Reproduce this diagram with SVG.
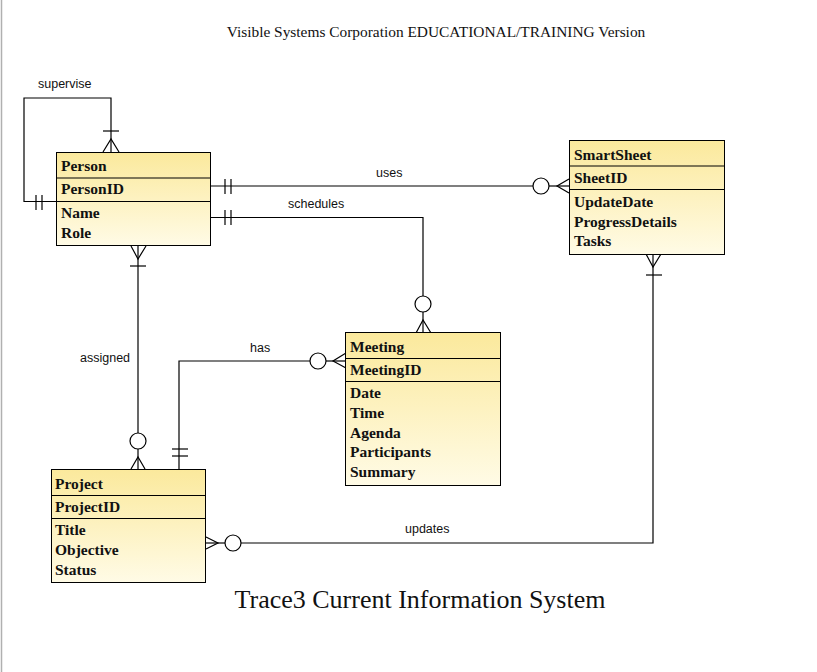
<svg xmlns="http://www.w3.org/2000/svg" width="817" height="672" viewBox="0 0 817 672">
<defs>
<linearGradient id="g" x1="0" y1="0" x2="0" y2="1">
<stop offset="0" stop-color="#fbe99c"/>
<stop offset="1" stop-color="#fffbe6"/>
</linearGradient>
</defs>
<style>
.box{fill:url(#g);stroke:#000;stroke-width:1}
.div{stroke:#000;stroke-width:1}
.t{font-family:"Liberation Serif","Times New Roman",serif;font-weight:bold;font-size:15.5px;fill:#111}
.lbl{font-family:"Liberation Sans",Arial,sans-serif;font-size:12.5px;fill:#111}
.ser{font-family:"Liberation Serif","Times New Roman",serif;fill:#111}
.c{fill:none;stroke:#000;stroke-width:1.2}
.o{fill:#fff;stroke:#000;stroke-width:1.2}
</style>
<rect width="817" height="672" fill="#fff"/>
<line x1="1.5" y1="0" x2="1.5" y2="672" stroke="#b0b0b0" stroke-width="1.5"/>
<text class="ser" x="436" y="37" text-anchor="middle" font-size="15.4">Visible Systems Corporation EDUCATIONAL/TRAINING Version</text>
<text class="ser" x="420" y="608" text-anchor="middle" font-size="26">Trace3 Current Information System</text>

<g id="connectors">
<!-- supervise -->
<polyline class="c" points="56,201.5 24,201.5 24,98 111,98 111,152"/>
<line class="c" x1="103" y1="131" x2="119" y2="131"/>
<polyline class="c" points="103,152 111,139 119,152"/>
<line class="c" x1="36" y1="195" x2="36" y2="210"/>
<line class="c" x1="42" y1="195" x2="42" y2="210"/>
<text class="lbl" x="38" y="88">supervise</text>
<!-- uses -->
<line class="c" x1="211" y1="186" x2="533" y2="186"/>
<line class="c" x1="225" y1="179" x2="225" y2="194"/>
<line class="c" x1="231" y1="179" x2="231" y2="194"/>
<circle class="o" cx="541" cy="186" r="8"/>
<line class="c" x1="549" y1="186" x2="569" y2="186"/>
<polyline class="c" points="569,179 557,186 569,193"/>
<text class="lbl" x="376" y="177">uses</text>
<!-- schedules -->
<polyline class="c" points="211,217.5 423,217.5 423,296"/>
<line class="c" x1="225" y1="210" x2="225" y2="225"/>
<line class="c" x1="231" y1="210" x2="231" y2="225"/>
<circle class="o" cx="423" cy="304" r="8"/>
<line class="c" x1="423" y1="312" x2="423" y2="333"/>
<polyline class="c" points="416,333 423,320 431,333"/>
<text class="lbl" x="288" y="208">schedules</text>
<!-- assigned -->
<line class="c" x1="138" y1="246" x2="138" y2="433"/>
<polyline class="c" points="131,246 138,259 146,246"/>
<line class="c" x1="130" y1="266" x2="146" y2="266"/>
<circle class="o" cx="138" cy="441" r="8"/>
<line class="c" x1="138" y1="449" x2="138" y2="469"/>
<polyline class="c" points="131,469 138,457 145,469"/>
<text class="lbl" x="80" y="362">assigned</text>
<!-- has -->
<polyline class="c" points="179,469 179,361 310,361"/>
<line class="c" x1="172" y1="449" x2="188" y2="449"/>
<line class="c" x1="172" y1="456" x2="188" y2="456"/>
<circle class="o" cx="318" cy="361" r="8"/>
<line class="c" x1="326" y1="361" x2="346" y2="361"/>
<polyline class="c" points="346,353 333,361 346,368"/>
<text class="lbl" x="250" y="352">has</text>
<!-- updates -->
<polyline class="c" points="653,254 653,543 241,543"/>
<polyline class="c" points="646,254 653,267 661,254"/>
<line class="c" x1="646" y1="275" x2="662" y2="275"/>
<circle class="o" cx="233" cy="543" r="8"/>
<line class="c" x1="225" y1="543" x2="206" y2="543"/>
<polyline class="c" points="206,537 218,543 206,549"/>
<text class="lbl" x="405" y="533">updates</text>
</g>

<g id="person">
<rect class="box" x="56.5" y="152.5" width="154" height="93"/>
<line class="div" x1="56.5" y1="178" x2="210.5" y2="178"/>
<line class="div" x1="56.5" y1="201.5" x2="210.5" y2="201.5"/>
<text class="t" x="61" y="171">Person</text>
<text class="t" x="61" y="194">PersonID</text>
<text class="t" x="61" y="218">Name</text>
<text class="t" x="61" y="238">Role</text>
</g>

<g id="smartsheet">
<rect class="box" x="569.5" y="140.5" width="155" height="114"/>
<line class="div" x1="569.5" y1="166" x2="724.5" y2="166"/>
<line class="div" x1="569.5" y1="189.5" x2="724.5" y2="189.5"/>
<text class="t" x="574" y="160">SmartSheet</text>
<text class="t" x="574" y="183">SheetID</text>
<text class="t" x="574" y="207">UpdateDate</text>
<text class="t" x="574" y="227">ProgressDetails</text>
<text class="t" x="574" y="246">Tasks</text>
</g>

<g id="meeting">
<rect class="box" x="345.5" y="332.5" width="155" height="153"/>
<line class="div" x1="345.5" y1="358.5" x2="500.5" y2="358.5"/>
<line class="div" x1="345.5" y1="381.5" x2="500.5" y2="381.5"/>
<text class="t" x="350" y="352">Meeting</text>
<text class="t" x="350" y="375">MeetingID</text>
<text class="t" x="350" y="398">Date</text>
<text class="t" x="350" y="418">Time</text>
<text class="t" x="350" y="438">Agenda</text>
<text class="t" x="350" y="457">Participants</text>
<text class="t" x="350" y="477">Summary</text>
</g>

<g id="project">
<rect class="box" x="51.5" y="469.5" width="154" height="113"/>
<line class="div" x1="51.5" y1="495.5" x2="205.5" y2="495.5"/>
<line class="div" x1="51.5" y1="518.5" x2="205.5" y2="518.5"/>
<text class="t" x="55" y="489">Project</text>
<text class="t" x="55" y="512">ProjectID</text>
<text class="t" x="55" y="535">Title</text>
<text class="t" x="55" y="555">Objective</text>
<text class="t" x="55" y="575">Status</text>
</g>
</svg>
